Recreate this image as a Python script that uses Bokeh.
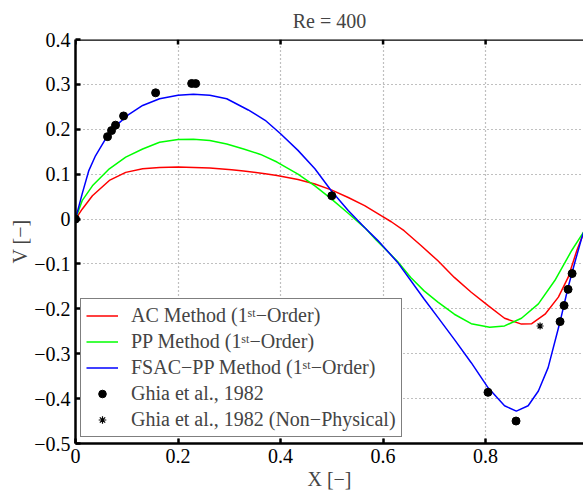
from bokeh.plotting import figure
from bokeh.models import FixedTicker, Legend, LegendItem, Range1d, Span
from bokeh.embed import file_html
from bokeh.resources import INLINE

TITLE = "Re = 400"
X_TICKS = [0, 0.2, 0.4, 0.6, 0.8, 1.0]
X_TICK_LABELS = ["0", "0.2", "0.4", "0.6", "0.8", "1"]
Y_TICKS = [0.4, 0.3, 0.2, 0.1, 0, -0.1, -0.2, -0.3, -0.4, -0.5]
Y_TICK_LABELS = ["0.4", "0.3", "0.2", "0.1", "0", "\u22120.1", "\u22120.2", "\u22120.3", "\u22120.4", "\u22120.5"]

# AC Method (1st-Order)
AC_X = [0, 0.013, 0.033, 0.066, 0.098, 0.131, 0.164, 0.2, 0.262, 0.3045, 0.328, 0.37, 0.393, 0.434, 0.467,
        0.499, 0.532, 0.564, 0.597, 0.616, 0.641, 0.674, 0.707, 0.739, 0.772, 0.805, 0.837, 0.87, 0.89,
        0.916, 0.942, 0.961, 0.978, 0.993, 1.0]
AC_V = [0, 0.022, 0.052, 0.086, 0.104, 0.112, 0.115, 0.116, 0.114, 0.110, 0.107, 0.101, 0.097, 0.088, 0.078,
        0.065, 0.048, 0.030, 0.007, -0.006, -0.026, -0.059, -0.093, -0.130, -0.163, -0.193, -0.221, -0.234, -0.233,
        -0.212, -0.174, -0.130, -0.070, -0.026, 0]

# PP Method (1st-Order)
PP_X = [0, 0.013, 0.033, 0.066, 0.098, 0.131, 0.164, 0.2, 0.23, 0.262, 0.295, 0.328, 0.361, 0.393, 0.434,
        0.467, 0.499, 0.532, 0.564, 0.587, 0.628, 0.654, 0.68, 0.707, 0.739, 0.772, 0.808, 0.837, 0.87,
        0.903, 0.935, 0.968, 0.991, 1.0]
PP_V = [0, 0.041, 0.074, 0.112, 0.138, 0.156, 0.171, 0.177, 0.178, 0.175, 0.167, 0.156, 0.144, 0.127, 0.100,
        0.074, 0.045, 0.013, -0.019, -0.047, -0.094, -0.130, -0.160, -0.185, -0.212, -0.233, -0.241, -0.238, -0.221,
        -0.189, -0.137, -0.070, -0.029, 0]

# FSAC-PP Method (1st-Order)
FS_X = [0, 0.013, 0.026, 0.039, 0.059, 0.079, 0.105, 0.131, 0.164, 0.2, 0.23, 0.262, 0.295, 0.337, 0.37,
        0.4, 0.434, 0.467, 0.499, 0.532, 0.564, 0.59, 0.628, 0.654, 0.68, 0.707, 0.739, 0.772, 0.805, 0.837,
        0.86, 0.883, 0.903, 0.922, 0.945, 0.961, 0.975, 0.988, 1.0]
FS_V = [0, 0.056, 0.108, 0.141, 0.179, 0.208, 0.234, 0.253, 0.268, 0.276, 0.278, 0.276, 0.268, 0.243, 0.220,
        0.190, 0.153, 0.112, 0.063, 0.019, -0.019, -0.048, -0.096, -0.137, -0.178, -0.219, -0.268, -0.320, -0.376, -0.416,
        -0.428, -0.416, -0.383, -0.331, -0.230, -0.152, -0.093, -0.040, 0]

# Ghia et al., 1982
GHIA_X = [0.0, 0.0625, 0.0703, 0.0781, 0.0938, 0.1563, 0.2266, 0.2344, 0.5, 0.8047, 0.8594,
          0.9453, 0.9531, 0.9609, 0.9688, 1.0]
GHIA_V = [0.0, 0.1836, 0.19713, 0.2092, 0.22965, 0.28124, 0.30203, 0.30174, 0.05186, -0.38598, -0.44993,
          -0.22847, -0.19254, -0.15663, -0.12146, 0.0]
# Ghia et al., 1982 (Non-Physical)
GHIA_NP_X = [0.9063]
GHIA_NP_V = [-0.23827]

LABELS = ["AC Method (1\u02e2\u1d57\u2212Order)", "PP Method (1\u02e2\u1d57\u2212Order)",
          "FSAC\u2212PP Method (1\u02e2\u1d57\u2212Order)", "Ghia et al., 1982",
          "Ghia et al., 1982 (Non\u2212Physical)"]

FONT = "'Liberation Serif'"
FS = "20px"

p = figure(width=583, height=492, x_range=Range1d(0, 0.991), y_range=Range1d(-0.5, 0.4),
           output_backend="svg", toolbar_location=None, title=TITLE,
           min_border_left=75, min_border_right=0, min_border_top=39, min_border_bottom=49)
p.outline_line_color = None
p.title.align = "center"
p.title.text_font = FONT
p.title.text_font_size = FS
p.title.text_font_style = "normal"
p.title.offset = 0
p.title.standoff = 15

for ax, ticks, labels in ((p.xaxis[0], X_TICKS, X_TICK_LABELS), (p.yaxis[0], Y_TICKS, Y_TICK_LABELS)):
    ax.ticker = FixedTicker(ticks=ticks)
    ax.major_label_overrides = dict(zip(ticks, labels))
    ax.major_label_text_font = FONT
    ax.major_label_text_font_size = FS
    ax.major_label_text_color = "black"
    ax.axis_label_text_font = FONT
    ax.axis_label_text_font_size = FS
    ax.axis_label_text_font_style = "normal"
    ax.axis_line_width = 2.5
    ax.major_tick_line_width = 2.5
    ax.major_tick_in = 5
    ax.major_tick_out = 0
    ax.minor_tick_line_color = None

p.xaxis.axis_label = "X [\u2212]"
p.yaxis.axis_label = "V [\u2212]"
p.xaxis.major_label_standoff = 5
p.yaxis.major_label_standoff = 5
p.xaxis.axis_label_standoff = 2
p.yaxis.axis_label_standoff = 0

# top frame edge with inward ticks
p.add_layout(Span(location=Y_TICKS[0], dimension="width", line_color="black", line_width=2.5))
top_y = [Y_TICKS[0]] * len(X_TICKS)
p.segment(x0=X_TICKS, y0=top_y, x1=X_TICKS, y1=[Y_TICKS[0] - 0.011] * len(X_TICKS),
          line_color="black", line_width=2.5)

p.xgrid.ticker = FixedTicker(ticks=X_TICKS)
p.ygrid.ticker = FixedTicker(ticks=Y_TICKS)
for g in (p.xgrid[0], p.ygrid[0]):
    g.grid_line_color = "#808080"
    g.grid_line_dash = "1 3"
    g.grid_line_width = 1.2

r1 = p.line(AC_X, AC_V, line_color="#ff0000", line_width=1.5)
r2 = p.line(PP_X, PP_V, line_color="#00ff00", line_width=1.5)
r3 = p.line(FS_X, FS_V, line_color="#0000ff", line_width=1.5)
r4 = p.scatter(GHIA_X, GHIA_V, marker="circle", size=8, fill_color="black", line_color="black")
r5 = p.scatter(GHIA_NP_X, GHIA_NP_V, marker="asterisk", size=7, line_color="black", line_width=1.2)

legend = Legend(items=[LegendItem(label=l, renderers=[r]) for l, r in zip(LABELS, [r1, r2, r3, r4, r5])],
                location=(5, 6), margin=0, padding=5, spacing=3, label_height=19, glyph_height=19,
                glyph_width=32, label_standoff=13, border_line_color="black", border_line_width=1.5,
                label_text_font=FONT, label_text_font_size=FS, background_fill_alpha=1.0)
p.add_layout(legend)

open("out.html", "w").write(file_html(p, INLINE))
